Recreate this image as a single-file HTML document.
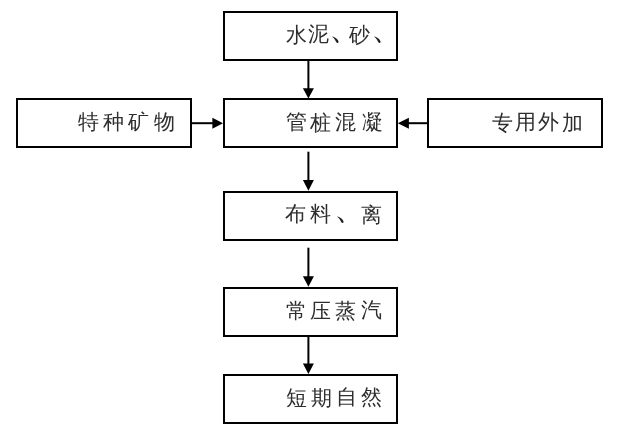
<!DOCTYPE html>
<html><head><meta charset="utf-8">
<style>
html,body{margin:0;padding:0;background:#fff;}
body{width:619px;height:437px;position:relative;overflow:hidden;font-family:"Liberation Serif",serif;}
.b{position:absolute;box-sizing:border-box;border:2px solid #000;}
.t{position:absolute;font-size:21px;line-height:1;white-space:nowrap;color:#2e2e2e;}
svg{position:absolute;left:0;top:0;}
</style></head><body>
<div class="b" style="left:223px;top:11px;width:175px;height:50px"></div>
<div class="b" style="left:223px;top:98px;width:175px;height:50px"></div>
<div class="b" style="left:223px;top:191px;width:175px;height:50px"></div>
<div class="b" style="left:223px;top:287px;width:175px;height:50px"></div>
<div class="b" style="left:223px;top:374px;width:175px;height:50px"></div>
<div class="b" style="left:16px;top:98px;width:176px;height:50px"></div>
<div class="b" style="left:427px;top:98px;width:176px;height:50px"></div>
<svg width="619" height="437" viewBox="0 0 619 437">
<g fill="#000" stroke="none">
<rect x="192" y="122.2" width="22" height="2"/>
<polygon points="212.4,117.8 212.4,128.8 223,123.3"/>
<rect x="407" y="122.2" width="21" height="2"/>
<polygon points="408.9,117.8 408.9,128.8 397.8,123.3"/>
<rect x="307.4" y="60" width="2" height="30"/>
<polygon points="302.9,88.2 313.9,88.2 308.4,98.6"/>
<rect x="307.4" y="151.7" width="2" height="30"/>
<polygon points="302.9,180.1 313.9,180.1 308.4,190.8"/>
<rect x="307.4" y="247.7" width="2" height="30"/>
<polygon points="302.9,276.3 313.9,276.3 308.4,286.8"/>
<rect x="307.4" y="336" width="2" height="30"/>
<polygon points="302.9,363.4 313.9,363.4 308.4,374"/>
</g>
</svg>
<div style="position:absolute;left:0;top:0;width:619px;height:437px;will-change:transform">
<span class="t" style="left:286px;top:25px">水</span>
<span class="t" style="left:308px;top:24px">泥</span>
<span class="t" style="left:329px;top:12px;font-size:32px;color:#222">、</span>
<span class="t" style="left:349px;top:25px">砂</span>
<span class="t" style="left:371px;top:12px;font-size:32px;color:#222">、</span>
<span class="t" style="left:286px;top:112px">管</span>
<span class="t" style="left:310px;top:113px">桩</span>
<span class="t" style="left:335px;top:112px">混</span>
<span class="t" style="left:362px;top:112px">凝</span>
<span class="t" style="left:78px;top:112px">特</span>
<span class="t" style="left:103px;top:112px">种</span>
<span class="t" style="left:128px;top:112px">矿</span>
<span class="t" style="left:154px;top:112px">物</span>
<span class="t" style="left:492px;top:113px">专</span>
<span class="t" style="left:515px;top:112px">用</span>
<span class="t" style="left:538px;top:112px">外</span>
<span class="t" style="left:562px;top:113px">加</span>
<span class="t" style="left:285px;top:204px">布</span>
<span class="t" style="left:310px;top:204px">料</span>
<span class="t" style="left:334px;top:192px;font-size:32px;color:#222">、</span>
<span class="t" style="left:361px;top:205px">离</span>
<span class="t" style="left:286px;top:301px">常</span>
<span class="t" style="left:310px;top:301px">压</span>
<span class="t" style="left:335px;top:301px">蒸</span>
<span class="t" style="left:361px;top:300px">汽</span>
<span class="t" style="left:286px;top:388px">短</span>
<span class="t" style="left:311px;top:388px">期</span>
<span class="t" style="left:336px;top:387px">自</span>
<span class="t" style="left:361px;top:387px">然</span>
</div>
</body></html>
